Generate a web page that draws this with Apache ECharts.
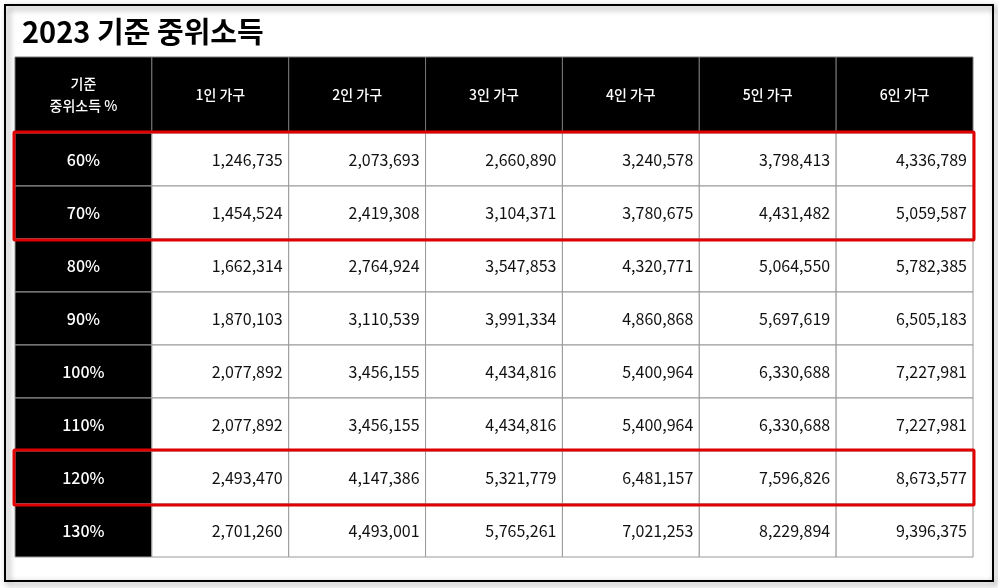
<!DOCTYPE html>
<html><head><meta charset="utf-8">
<script src="https://cdn.jsdelivr.net/npm/echarts@6/dist/echarts.min.js"></script>
<style>html,body{margin:0;background:#fff}#main{width:998px;height:588px}</style>
</head><body><div id="main"></div>
<script>
var title = '2023 기준 중위소득';
var headers = ['기준\n중위소득 %', '1인 가구', '2인 가구', '3인 가구', '4인 가구', '5인 가구', '6인 가구'];
var levels = ['60%', '70%', '80%', '90%', '100%', '110%', '120%', '130%'];
var p1 = [1246735, 1454524, 1662314, 1870103, 2077892, 2077892, 2493470, 2701260];
var p2 = [2073693, 2419308, 2764924, 3110539, 3456155, 3456155, 4147386, 4493001];
var p3 = [2660890, 3104371, 3547853, 3991334, 4434816, 4434816, 5321779, 5765261];
var p4 = [3240578, 3780675, 4320771, 4860868, 5400964, 5400964, 6481157, 7021253];
var p5 = [3798413, 4431482, 5064550, 5697619, 6330688, 6330688, 7596826, 8229894];
var p6 = [4336789, 5059587, 5782385, 6505183, 7227981, 7227981, 8673577, 9396375];
var highlights = [[0, 1], [6, 6]];

var font = '"Noto Sans CJK KR", "Noto Sans", sans-serif';
var cols = [p1, p2, p3, p4, p5, p6];
var body = [];
levels.forEach(function (l, r) {
  body.push([0, r, l]);
  cols.forEach(function (c, i) { body.push([i + 1, r, c[r].toLocaleString('en-US')]); });
});
var head = headers.map(function (h, i) { return [i, 0, h]; });

function cell(params, api) {
  var c = api.coord([api.value(0), api.value(1)]);
  var s = api.size([1, 1]);
  var first = api.value(0) === 0;
  var isHead = params.seriesIndex === 0;
  var dark = first || isHead;
  var x = c[0] - s[0] / 2, y = c[1] - s[1] / 2;
  return {
    type: 'group',
    children: [
      { type: 'rect', shape: { x: x, y: y, width: s[0], height: s[1] },
        style: { fill: dark ? '#000' : '#fff', stroke: isHead ? '#777' : '#999', lineWidth: 1 } },
      { type: 'text', x: dark ? c[0] : x + s[0] - 6, y: c[1],
        style: { text: api.value(2), fill: dark ? '#fff' : '#111',
          font: (isHead ? '500 14px ' : (first ? '500 16px ' : '16px ')) + font,
          align: dark ? 'center' : 'right', verticalAlign: 'middle', lineHeight: 22 } }
    ]
  };
}

var myChart = echarts.init(document.getElementById('main'));
myChart.setOption({
  animation: false,
  title: { text: title, left: 17, top: 12, textStyle: { fontFamily: font, fontSize: 29, fontWeight: 'bold', color: '#000' } },
  graphic: [{ type: 'rect', shape: { x: 5, y: 5, width: 988, height: 576 },
    style: { fill: 'none', stroke: '#000', lineWidth: 2, shadowColor: 'rgba(0,0,0,0.5)', shadowBlur: 6, shadowOffsetX: 3, shadowOffsetY: 3 } }],
  grid: [
    { left: 15, width: 958, top: 57, height: 76 },
    { left: 15, width: 958, top: 133, height: 424 }
  ],
  xAxis: [
    { gridIndex: 0, type: 'category', data: headers, show: false },
    { gridIndex: 1, type: 'category', data: headers, show: false }
  ],
  yAxis: [
    { gridIndex: 0, type: 'category', data: ['h'], show: false, inverse: true },
    { gridIndex: 1, type: 'category', data: levels, show: false, inverse: true }
  ],
  series: [
    { type: 'custom', xAxisIndex: 0, yAxisIndex: 0, data: head, renderItem: cell },
    { type: 'custom', xAxisIndex: 1, yAxisIndex: 1, data: body, renderItem: cell },
    { type: 'custom', xAxisIndex: 1, yAxisIndex: 1, data: highlights, z: 5,
      renderItem: function (params, api) {
        var a = api.coord([0, api.value(0)]), b = api.coord([6, api.value(1)]);
        var s = api.size([1, 1]);
        return { type: 'rect', shape: { x: a[0] - s[0] / 2 - 1, y: a[1] - s[1] / 2 - 1, width: b[0] - a[0] + s[0] + 2, height: b[1] - a[1] + s[1] + 2, r: 1 },
          style: { fill: 'none', stroke: '#e00000', lineWidth: 3 } };
      } }
  ]
});
</script></body></html>
